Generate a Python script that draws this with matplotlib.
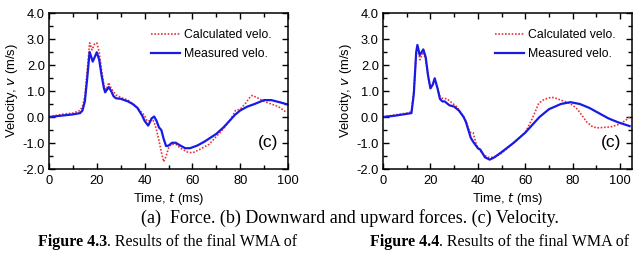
import matplotlib
matplotlib.use("Agg")
import matplotlib.pyplot as plt
from matplotlib.ticker import MultipleLocator, FormatStrFormatter

# Figure 4.3 (left panel)
t_meas_a = [0, 5, 10, 13, 14, 15, 16, 17, 18.3, 20, 21, 22, 23, 23.5, 25, 26, 27, 28,
            30, 33, 35, 37, 39, 40, 41.5, 43, 44, 45, 46, 47, 48, 49, 50, 51.5, 53,
            55, 57, 59, 62, 65, 70, 73, 76, 78, 80, 83, 86, 90, 93, 96, 100]
v_meas_a = [0.0, 0.05, 0.1, 0.15, 0.25, 0.6, 1.5, 2.5, 2.13, 2.49, 2.2, 1.6, 1.1, 0.95,
            1.15, 1.0, 0.8, 0.72, 0.7, 0.6, 0.5, 0.35, 0.05, -0.15, -0.33, -0.05, 0.02,
            -0.15, -0.4, -0.5, -0.85, -1.12, -1.1, -0.99, -0.99, -1.1, -1.2, -1.2, -1.1,
            -0.95, -0.65, -0.4, -0.1, 0.1, 0.25, 0.4, 0.5, 0.65, 0.65, 0.58, 0.48]
t_calc_a = [0, 5, 10, 13, 14, 15, 16, 17, 18, 19, 20, 21, 22, 23, 24, 25, 26, 28, 30,
            33, 36, 38, 40, 41, 42, 43, 44, 45, 46, 47, 48, 49, 50, 51, 53, 55, 58, 60,
            63, 67, 70, 73, 76, 78, 80, 82, 84, 85, 87, 90, 93, 96, 99]
v_calc_a = [0.0, 0.1, 0.15, 0.25, 0.4, 0.8, 1.8, 2.85, 2.58, 2.8, 2.85, 2.5, 1.8, 1.2,
            1.05, 1.32, 1.1, 0.85, 0.75, 0.65, 0.45, 0.25, 0.05, -0.15, -0.15, -0.05,
            -0.2, -0.5, -0.9, -1.35, -1.72, -1.5, -1.2, -1.05, -1.05, -1.2, -1.35, -1.38,
            -1.25, -1.05, -0.75, -0.45, -0.1, 0.25, 0.3, 0.5, 0.75, 0.83, 0.75, 0.6, 0.5,
            0.4, 0.2]

# Figure 4.4 (right panel)
t_meas_b = [0, 5, 10, 12, 13, 14, 14.5, 15.5, 17, 18, 19, 20, 21, 21.8, 23, 24, 25, 26,
            28, 30, 32, 34, 35, 36, 37, 38, 40, 41, 42, 43, 45, 47, 50, 55, 60, 63, 66,
            70, 75, 79, 83, 87, 91, 95, 99, 104]
v_meas_b = [0.0, 0.05, 0.12, 0.15, 0.9, 2.5, 2.77, 2.38, 2.6, 2.3, 1.6, 1.1, 1.25, 1.49,
            1.1, 0.7, 0.6, 0.6, 0.45, 0.4, 0.25, 0.0, -0.2, -0.5, -0.8, -0.95, -1.2,
            -1.25, -1.4, -1.55, -1.64, -1.55, -1.35, -1.0, -0.6, -0.3, 0.0, 0.3, 0.5,
            0.57, 0.5, 0.35, 0.15, -0.05, -0.2, -0.35]
t_calc_b = [0, 5, 10, 12, 13, 14, 14.7, 15.5, 17, 18, 19, 20, 21, 21.8, 23, 24, 25, 27,
            29, 31, 33, 35, 36, 37, 38, 39, 40, 42, 44, 46, 48, 50, 55, 60, 63, 65.7,
            68, 70.6, 72, 75, 78, 80, 82, 84, 86, 88, 90, 93, 96, 99, 102, 104]
v_calc_b = [0.0, 0.08, 0.15, 0.2, 1.0, 2.4, 2.7, 2.2, 2.5, 2.2, 1.55, 1.1, 1.25, 1.45,
            1.1, 0.8, 0.72, 0.7, 0.55, 0.4, 0.15, -0.15, -0.45, -0.6, -0.6, -0.95, -1.2,
            -1.4, -1.55, -1.55, -1.5, -1.4, -1.0, -0.6, -0.05, 0.53, 0.68, 0.75, 0.75,
            0.65, 0.55, 0.45, 0.3, 0.05, -0.2, -0.35, -0.42, -0.4, -0.38, -0.3, -0.15,
            0.0]

panels = [
    (t_calc_a, v_calc_a, t_meas_a, v_meas_a, 100),
    (t_calc_b, v_calc_b, t_meas_b, v_meas_b, 105),
]

W, H = 643, 273
fig = plt.figure(figsize=(W / 100, H / 100), dpi=100)
sans = ["Liberation Sans", "DejaVu Sans"]
serif = ["Liberation Serif", "DejaVu Serif"]

boxes = [(49, 13, 288, 169), (383, 13, 632, 169)]
red = "#e8343a"
blue = "#1a1ae6"

for (x0, y0, x1, y1), (tc, vc, tm, vm, xmax) in zip(boxes, panels):
    ax = fig.add_axes([x0 / W, 1 - y1 / H, (x1 - x0) / W, (y1 - y0) / H])
    ax.plot(tc, vc, ls=(0, (1, 1)), color=red, lw=1.2, label="Calculated velo.")
    ax.plot(tm, vm, color=blue, lw=1.6, label="Measured velo.")
    ax.set_xlim(0, xmax)
    ax.set_ylim(-2.0, 4.0)
    ax.xaxis.set_major_locator(MultipleLocator(20))
    ax.xaxis.set_minor_locator(MultipleLocator(10))
    ax.yaxis.set_major_locator(MultipleLocator(1.0))
    ax.yaxis.set_minor_locator(MultipleLocator(0.5))
    ax.yaxis.set_major_formatter(FormatStrFormatter("%.1f"))
    ax.tick_params(which="both", direction="in", top=True, right=True, width=1.0,
                   labelsize=9.3)
    ax.tick_params(axis="x", pad=4)
    ax.tick_params(axis="y", pad=3)
    ax.tick_params(which="major", length=4.5)
    ax.tick_params(which="minor", length=2.8)
    for lab in ax.get_xticklabels() + ax.get_yticklabels():
        lab.set_family(sans)
    for s in ax.spines.values():
        s.set_linewidth(1.1)
    ax.set_xlabel("Time, $\\it{t}$ (ms)", fontsize=9.3, family=sans, labelpad=3)
    ax.set_ylabel("Velocity, $\\it{v}$ (m/s)", fontsize=9.4, family=sans, labelpad=2)
    leg = ax.legend(loc="upper right", frameon=False, prop={"family": sans, "size": 8.8},
                    handlelength=2.3, handletextpad=0.4, labelspacing=0.6,
                    borderaxespad=0.9)
    ax.text(0.915, 0.17, "(c)", transform=ax.transAxes, fontsize=12.5, family=sans,
            ha="center", va="center")

fig.text(350 / W, 1 - 218 / H, "(a)  Force. (b) Downward and upward forces. (c) Velocity.",
         ha="center", va="center", fontsize=13, family=serif)

renderer = fig.canvas.get_renderer()
for x, num in [(38, "4.3"), (370, "4.4")]:
    b = fig.text(x / W, 1 - 242 / H, "Figure " + num, ha="left", va="center",
                 fontsize=11.5, family=serif, weight="bold")
    ext = b.get_window_extent(renderer)
    fig.text(ext.x1 / W, 1 - 242 / H, ". Results of the final WMA of", ha="left",
             va="center", fontsize=11.5, family=serif)

fig.savefig("out.png", dpi=100)
